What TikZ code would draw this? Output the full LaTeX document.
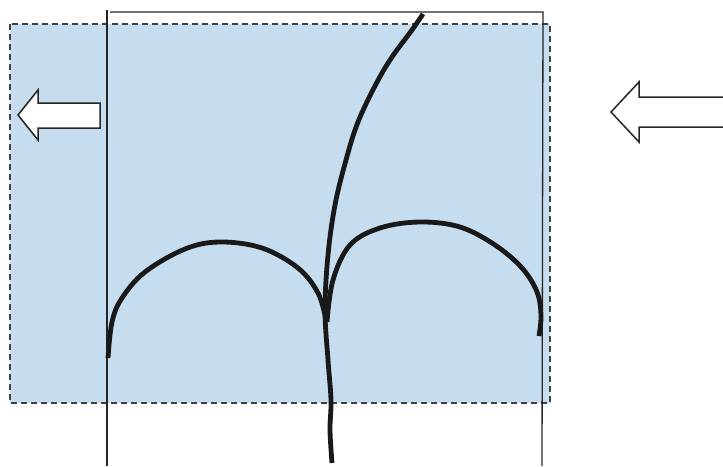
\documentclass[tikz,border=0pt]{standalone}
\begin{document}
\begin{tikzpicture}[x=1pt,y=-1pt,
  zone/.style={fill=zoneblue,draw=black!75,dash pattern=on 6pt off 4pt,line width=1.6pt},
  frame/.style={draw=black!85,line width=1.3pt},
  stem/.style={draw=black!90,line width=4.8pt,line cap=butt,line join=round},
  hollowarrow/.style={draw=black!85,fill=white,line width=1.5pt,line join=miter}]
\definecolor{zoneblue}{HTML}{C6DCEF}
\useasboundingbox (0,0) rectangle (723,466);
\path[zone] (10,24) rectangle (550,403);
\draw[frame] (107,10) -- (107,466);
\draw[frame] (110,12) -- (543,12) -- (542,466);
% left arrow
\path[hollowarrow] (100,103) -- (38,103) -- (38,90) -- (18,115) -- (38,140) -- (38,128) -- (100,128) -- cycle;
% right arrow
\path[hollowarrow] (724,97) -- (639,97) -- (639,82) -- (611,112) -- (639,142) -- (639,127) -- (724,127);
% stem
\draw[stem] plot[smooth,tension=0.6] coordinates {(423,14) (412,30) (392,57) (376,84) (358,122) (346,160) (335,205) (328,255) (325,310) (328,360) (331,400) (330,430) (332,463)};
% left arch
\draw[stem] plot[smooth,tension=0.6] coordinates {(108,358) (112,322) (122,298) (145,272) (185,249) (220,242) (262,248) (298,268) (318,293) (326,320)};
% right arch
\draw[stem] plot[smooth,tension=0.6] coordinates {(327,322) (333,280) (350,245) (380,228) (420,222) (460,227) (495,245) (522,268) (537,292) (541,315) (539,336)};
\end{tikzpicture}
\end{document}
